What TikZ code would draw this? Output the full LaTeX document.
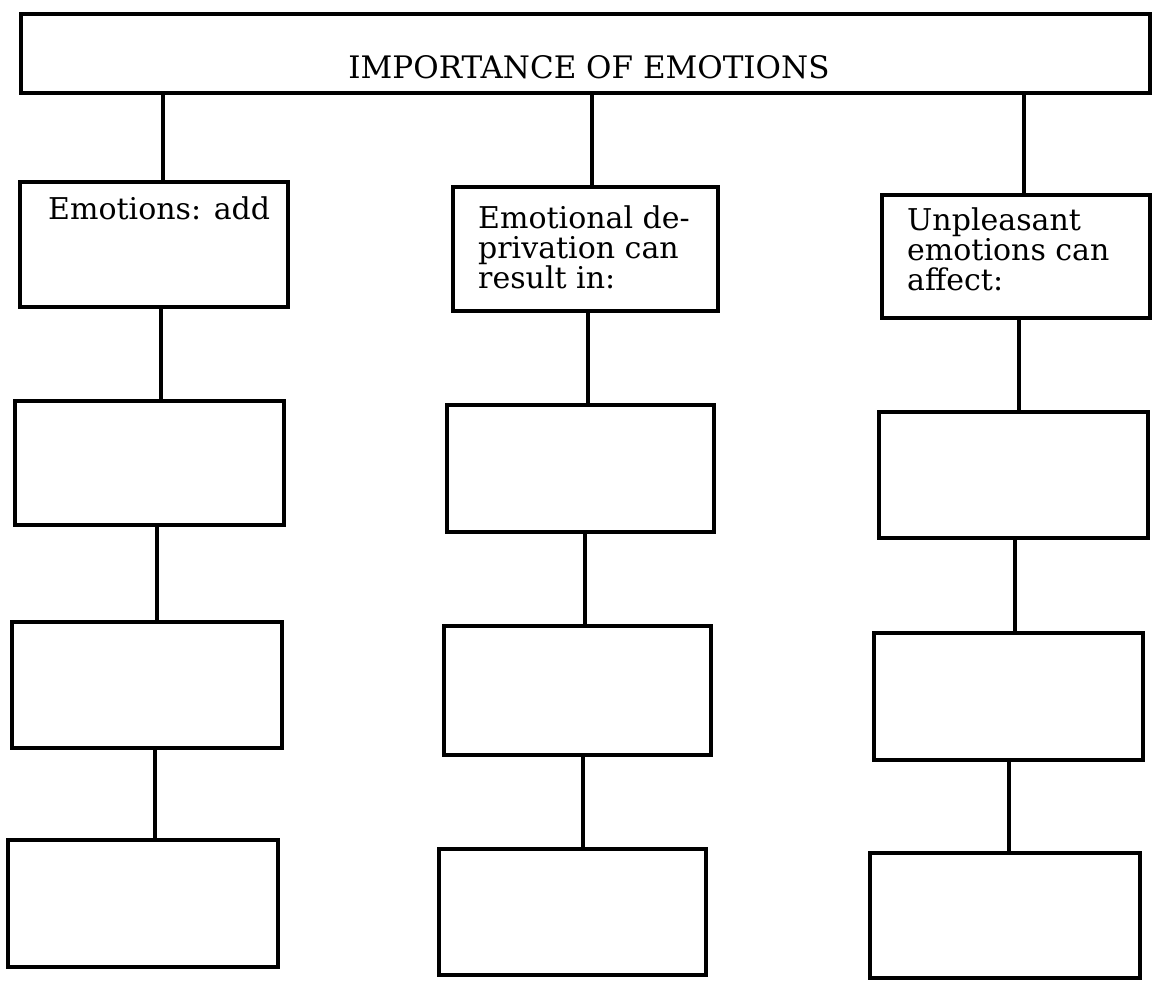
\documentclass[tikz,border=0pt]{standalone}
\usepackage{fontspec}
\setmainfont{DejaVu Serif}
\usetikzlibrary{calc}
\begin{document}
\begin{tikzpicture}[x=1pt,y=-1pt,
  frame/.style={draw, rectangle, line width=4.8pt, inner sep=0pt, outer sep=0pt, anchor=north west},
  heading/.style={draw, rectangle, line width=3.4pt, inner sep=0pt, outer sep=0pt, anchor=north west},
  link/.style={line width=4pt},
  caption/.style={anchor=base west, inner sep=0pt, align=left, font=\fontsize{30}{30}\selectfont},
  titletext/.style={anchor=base, inner sep=0pt, font=\fontsize{31}{31}\selectfont},
]
\useasboundingbox (0,0) rectangle (1152,981);

% heading bar
\node[heading, minimum width=1129pt, minimum height=79pt] (top) at (21,14) {};
\node[titletext] (title) at (589,79) {IMPORTANCE OF EMOTIONS};

% first column
\node[frame, minimum width=268pt, minimum height=125pt] (c1r1) at (20,182) {};
\node[frame, minimum width=269pt, minimum height=124pt] (c1r2) at (15,401) {};
\node[frame, minimum width=270pt, minimum height=126pt] (c1r3) at (12,622) {};
\node[frame, minimum width=270pt, minimum height=127pt] (c1r4) at (8,840) {};

% second column
\node[frame, minimum width=265pt, minimum height=124pt] (c2r1) at (453,187) {};
\node[frame, minimum width=267pt, minimum height=127pt] (c2r2) at (447,405) {};
\node[frame, minimum width=267pt, minimum height=129pt] (c2r3) at (444,626) {};
\node[frame, minimum width=267pt, minimum height=126pt] (c2r4) at (439,849) {};

% third column
\node[frame, minimum width=268pt, minimum height=123pt] (c3r1) at (882,195) {};
\node[frame, minimum width=269pt, minimum height=126pt] (c3r2) at (879,412) {};
\node[frame, minimum width=269pt, minimum height=127pt] (c3r3) at (874,633) {};
\node[frame, minimum width=270pt, minimum height=125pt] (c3r4) at (870,853) {};

% box texts (the base anchor of a multi-line node sits on its last line)
\node[caption] (t1) at (48,220) {Emotions: add};
\node[caption] (t2) at (478,289) {Emotional de-\\privation can\\result in:};
\node[caption] (t3) at (907,291) {Unpleasant\\emotions can\\affect:};

% connectors
\draw[link] ($(c1r1.north)+(9,0)$) -- ($(c1r1.north |- top.south)+(9,0)$);
\draw[link] ($(c1r2.north)+(11.5,0)$) -- ($(c1r2.north |- c1r1.south)+(11.5,0)$);
\draw[link] ($(c1r3.north)+(10,0)$) -- ($(c1r3.north |- c1r2.south)+(10,0)$);
\draw[link] ($(c1r4.north)+(12,0)$) -- ($(c1r4.north |- c1r3.south)+(12,0)$);

\draw[link] ($(c2r1.north)+(6.5,0)$) -- ($(c2r1.north |- top.south)+(6.5,0)$);
\draw[link] ($(c2r2.north)+(7.5,0)$) -- ($(c2r2.north |- c2r1.south)+(7.5,0)$);
\draw[link] ($(c2r3.north)+(7.5,0)$) -- ($(c2r3.north |- c2r2.south)+(7.5,0)$);
\draw[link] ($(c2r4.north)+(10.5,0)$) -- ($(c2r4.north |- c2r3.south)+(10.5,0)$);

\draw[link] ($(c3r1.north)+(8,0)$) -- ($(c3r1.north |- top.south)+(8,0)$);
\draw[link] ($(c3r2.north)+(5.5,0)$) -- ($(c3r2.north |- c3r1.south)+(5.5,0)$);
\draw[link] ($(c3r3.north)+(6.5,0)$) -- ($(c3r3.north |- c3r2.south)+(6.5,0)$);
\draw[link] ($(c3r4.north)+(4,0)$) -- ($(c3r4.north |- c3r3.south)+(4,0)$);
\end{tikzpicture}
\end{document}
